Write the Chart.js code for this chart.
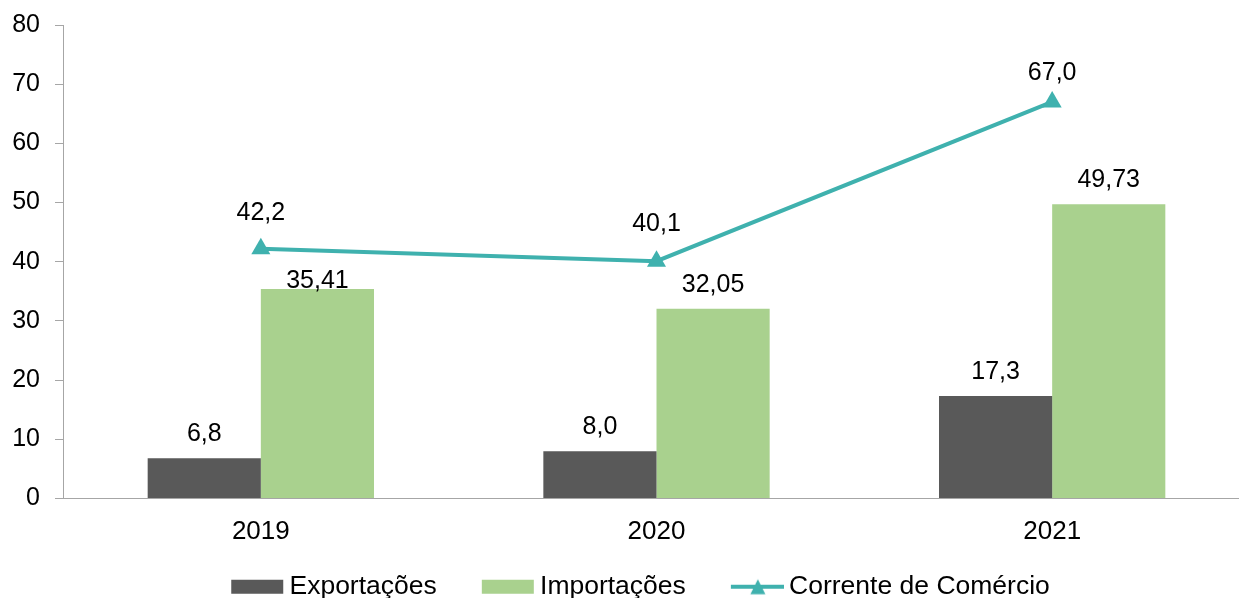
<!DOCTYPE html>
<html><head><meta charset="utf-8">
<script src="https://cdn.jsdelivr.net/npm/chart.js@4/dist/chart.umd.min.js"></script>
<style>html,body{margin:0;padding:0;overflow:hidden;background:#fff}
#c{display:block}</style></head>
<body><canvas id="c" width="1250" height="598" style="width:1250px;height:598px"></canvas>
<script>
// ---- data ----
const categories = ['2019', '2020', '2021'];
const exportacoes = [6.8, 8.0, 17.3];
const importacoes = [35.41, 32.05, 49.73];
const corrente = [42.2, 40.1, 67.0];
const seriesNames = ['Exportações', 'Importações', 'Corrente de Comércio'];
const seriesDecimals = [1, 2, 1];
const yMin = 0, yMax = 80, yStep = 10;

// ---- style ----
const COL_EXP = '#595959', COL_IMP = '#A9D18E', COL_LINE = '#3FB1AE', COL_AXIS = '#A6A6A6';
const FONT = '"Liberation Sans", Arial, sans-serif';
const labelLift = [[24, 24, 24], [8, 24, 24], [36, 37, 29]];

function legendIcon(kind, color) {
  const c = document.createElement('canvas');
  c.width = 96; c.height = 24;
  const g = c.getContext('2d');
  const x0 = 43;
  if (kind === 'box') {
    g.fillStyle = color; g.fillRect(x0, 5, 52, 14);
  } else {
    g.strokeStyle = color; g.lineWidth = 4;
    g.beginPath(); g.moveTo(x0, 12); g.lineTo(x0 + 54, 12); g.stroke();
    g.fillStyle = color; g.beginPath();
    g.moveTo(x0 + 27, 4.5); g.lineTo(x0 + 34.5, 19.5); g.lineTo(x0 + 19.5, 19.5); g.closePath(); g.fill();
  }
  return c;
}
const icons = [legendIcon('box', COL_EXP), legendIcon('box', COL_IMP), legendIcon('line', COL_LINE)];

const valueLabels = {
  id: 'valueLabels',
  afterDatasetsDraw(chart) {
    const ctx = chart.ctx;
    ctx.save();
    ctx.font = '25px ' + FONT;
    ctx.fillStyle = '#000';
    ctx.textAlign = 'center';
    ctx.textBaseline = 'middle';
    chart.data.datasets.forEach((ds, di) => {
      const meta = chart.getDatasetMeta(di);
      meta.data.forEach((el, i) => {
        const txt = ds.data[i].toFixed(seriesDecimals[di]).replace('.', ',');
        ctx.fillText(txt, el.x, el.y - labelLift[di][i]);
      });
    });
    ctx.restore();
  }
};

const shiftLegend = {
  id: 'shiftLegend',
  afterLayout(chart) {
    const l = chart.legend; if (!l) return;
    l.top += 12; l.bottom += 12; l.left -= 2; l.right -= 2;
  }
};

new Chart(document.getElementById('c'), {
  data: {
    labels: categories,
    datasets: [
      { type: 'bar', label: seriesNames[0], data: exportacoes, backgroundColor: COL_EXP, order: 2,
        categoryPercentage: 0.572, barPercentage: 1 },
      { type: 'bar', label: seriesNames[1], data: importacoes, backgroundColor: COL_IMP, order: 2,
        categoryPercentage: 0.572, barPercentage: 1 },
      { type: 'line', label: seriesNames[2], data: corrente, borderColor: COL_LINE, backgroundColor: COL_LINE,
        borderWidth: 4, pointStyle: 'triangle', pointRadius: 11, pointBorderWidth: 0,
        pointBackgroundColor: COL_LINE, tension: 0, order: 1, clip: false }
    ]
  },
  options: {
    responsive: false, maintainAspectRatio: false, animation: false,
    layout: { autoPadding: false, padding: { top: 25, left: 0, right: 0, bottom: 0 } },
    plugins: {
      tooltip: { enabled: false },
      legend: {
        position: 'bottom',
        labels: {
          usePointStyle: true, pointStyleWidth: 80, padding: 10,
          font: { family: FONT, size: 26.5 }, color: '#000',
          generateLabels: () => seriesNames.map((n, i) => ({
            text: n, pointStyle: icons[i], fillStyle: 'transparent', strokeStyle: 'transparent',
            lineWidth: 0, hidden: false, datasetIndex: i, fontColor: '#000'
          }))
        }
      }
    },
    scales: {
      x: {
        grid: { display: false, drawTicks: false },
        border: { display: true, color: COL_AXIS, width: 1 },
        ticks: { font: { family: FONT, size: 26 }, color: '#000', padding: 18 },
        afterFit: s => { s.height = 53; }
      },
      y: {
        min: yMin, max: yMax,
        grid: { drawOnChartArea: false, drawTicks: true, tickLength: 8, color: COL_AXIS },
        border: { display: true, color: COL_AXIS, width: 1 },
        ticks: { stepSize: yStep, font: { family: FONT, size: 25, lineHeight: 0.6 }, color: '#000', padding: 15 },
        afterFit: s => { s.width = 63; }
      }
    }
  },
  plugins: [valueLabels, shiftLegend]
});
</script>
</body></html>
